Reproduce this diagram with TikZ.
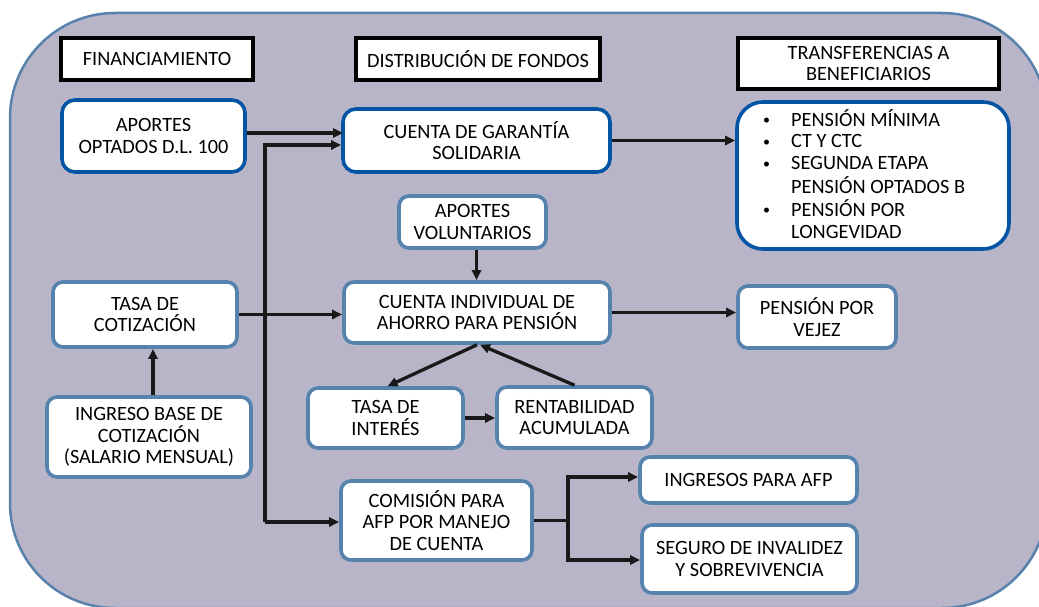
\documentclass[tikz,border=0pt]{standalone}
\usepackage{fontspec}
\setmainfont{Carlito}
\usetikzlibrary{arrows.meta,calc}
\definecolor{bgfill}{RGB}{185,181,201}
\definecolor{bgborder}{RGB}{88,130,172}
\definecolor{dkblue}{RGB}{4,84,166}
\definecolor{steel}{RGB}{86,130,174}
\newcommand\fs{\fontsize{20.3}{21.7}\selectfont}
\newcommand\bul{\makebox[29pt][l]{\hspace*{1pt}\raisebox{1.5pt}{\fontsize{14}{14}\selectfont\textbullet}}}
\begin{document}
\begin{tikzpicture}[x=1pt,y=-1pt,
  hdr/.style={draw=black, line width=3.8pt, fill=white, inner sep=0pt, align=center, font=\fs},
  bluebox/.style={draw=dkblue, line width=3.6pt, fill=white, rounded corners=13pt, inner sep=0pt, align=center, font=\fs},
  sbox/.style={draw=steel, line width=3.6pt, fill=white, rounded corners=10pt, inner sep=0pt, align=center, font=\fs},
  arr/.style={draw=black!90, line width=3.3pt, -{Triangle[length=10pt,width=9pt]}},
  ln/.style={draw=black!90, line width=3.3pt}]
\useasboundingbox (0,0) rectangle (1039,607);
\begin{scope}
\clip (0,0) rectangle (1039,607);
\draw[bgborder, fill=bgfill, line width=2.5pt, rounded corners=105pt] (10,13) rectangle (1047,608);
\end{scope}
% headers
\node[hdr, minimum width=192pt, minimum height=42pt] (hf) at (157,59) {FINANCIAMIENTO};
\node[hdr, minimum width=244pt, minimum height=42pt] (hd) at (478,59) {DISTRIBUCIÓN DE FONDOS};
\node[hdr, minimum width=261pt, minimum height=51pt] (ht) at (868.5,63.5) {TRANSFERENCIAS A\\BENEFICIARIOS};
% blue boxes
\node[bluebox, minimum width=183pt, minimum height=72pt] (apo) at (153.5,136) {APORTES\\OPTADOS D.L. 100};
\node[bluebox, minimum width=267pt, minimum height=63pt] (cg) at (476.5,140.5) {CUENTA DE GARANTÍA\\SOLIDARIA};
\node[bluebox, rounded corners=26pt, minimum width=272pt, minimum height=147pt] (tb) at (873,175.5) {};
\node[anchor=north west, inner sep=0pt, font=\fs] (tbt) at (762,109) {%
\begin{tabular}{@{}l@{}l@{}}
\bul & PENSIÓN MÍNIMA\\
\bul & CT Y CTC\\
\bul & SEGUNDA ETAPA\\
 & PENSIÓN OPTADOS B\\
\bul & PENSIÓN POR\\
 & LONGEVIDAD
\end{tabular}};
% steel boxes
\node[sbox, minimum width=147pt, minimum height=52pt] (av) at (472.5,222) {APORTES\\VOLUNTARIOS};
\node[sbox, minimum width=184pt, minimum height=65pt] (tc) at (145,314.5) {TASA DE\\COTIZACIÓN};
\node[sbox, minimum width=266pt, minimum height=61pt] (ci) at (477,312.5) {CUENTA INDIVIDUAL DE\\AHORRO PARA PENSIÓN};
\node[sbox, minimum width=158pt, minimum height=62pt] (pv) at (817,317) {PENSIÓN POR\\VEJEZ};
\node[sbox, minimum width=204pt, minimum height=80pt] (ib) at (149,437) {INGRESO BASE DE\\COTIZACIÓN\\(SALARIO MENSUAL)};
\node[sbox, minimum width=155pt, minimum height=60pt] (ti) at (385.5,418) {TASA DE\\INTERÉS};
\node[sbox, minimum width=155pt, minimum height=61pt] (ra) at (574.5,417.5) {RENTABILIDAD\\ACUMULADA};
\node[sbox, minimum width=191pt, minimum height=79pt] (com) at (436.5,520.5) {COMISIÓN PARA\\AFP POR MANEJO\\DE CUENTA};
\node[sbox, minimum width=217pt, minimum height=46pt] (ing) at (748.5,480) {INGRESOS PARA AFP};
\node[sbox, minimum width=215pt, minimum height=68pt] (seg) at (749.5,559) {SEGURO DE INVALIDEZ\\Y SOBREVIVENCIA};
% connectors
\coordinate (a1) at (343,133);
\draw[arr] (apo.east |- a1) -- (a1);
\coordinate (vt) at (265,145);
\coordinate (vb) at (265,522);
\coordinate (j) at (265,314.5);
\draw[ln] (tc.east) -- (j);
\draw[arr] (j) -- (j -| ci.west);
\draw[arr] (vb) -- (vt) -- (vt -| cg.west);
\draw[arr] (vt |- vb) -- (vb -| com.west);
\draw[arr] (cg.east) -- (cg.east -| tb.west);
\draw[arr] ([xshift=4pt]av.south) -- ([xshift=4pt]av.south |- ci.north);
\draw[arr] (ci.east) -- (ci.east -| pv.west);
\draw[arr] ([xshift=4pt]ib.north) -- ([xshift=4pt]ib.north |- tc.south);
\draw[arr] (ci.south) -- ([xshift=2pt]ti.north);
\draw[arr] (ra.north) -- ([xshift=3pt]ci.south);
\draw[arr] (ti.east) -- (ti.east -| ra.west);
\coordinate (br) at (568,520.5);
\draw[ln] (com.east) -- (br);
\draw[arr] (br) |- ([yshift=3pt]ing.west);
\draw[arr] (br) |- ([yshift=-1pt]seg.west);
\end{tikzpicture}
\end{document}
